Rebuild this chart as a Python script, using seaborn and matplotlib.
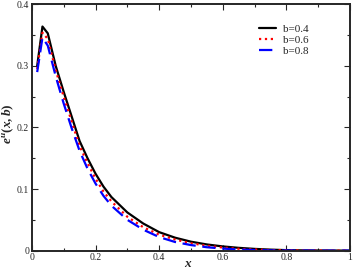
import pandas as pd
import matplotlib
matplotlib.use('Agg')
import matplotlib.pyplot as plt
import seaborn as sns
from matplotlib.ticker import MultipleLocator, FormatStrFormatter

# x grid and curves
x_vals = [0.0167, 0.0333, 0.05, 0.075, 0.1, 0.125, 0.15, 0.175, 0.2, 0.225, 0.25,
          0.3, 0.35, 0.4, 0.45, 0.5, 0.55, 0.6, 0.65, 0.7, 0.75, 0.8, 0.85, 0.9, 0.95, 1.0]
b04 = [0.300, 0.364, 0.353, 0.300, 0.258, 0.218, 0.178, 0.150, 0.125, 0.104, 0.087,
       0.062, 0.044, 0.030, 0.021, 0.0145, 0.010, 0.0068, 0.0045, 0.0028, 0.0016,
       0.0008, 0.0004, 0.0002, 0.0001, 0.0]
b06 = [0.295, 0.354, 0.344, 0.293, 0.250, 0.210, 0.170, 0.142, 0.117, 0.096, 0.080,
       0.055, 0.038, 0.026, 0.018, 0.012, 0.008, 0.005, 0.003, 0.0018, 0.001,
       0.0005, 0.0003, 0.0001, 0.0, 0.0]
b08 = [0.290, 0.346, 0.333, 0.283, 0.239, 0.199, 0.162, 0.133, 0.109, 0.089, 0.073,
       0.050, 0.034, 0.022, 0.014, 0.009, 0.0055, 0.0033, 0.0018, 0.0009, 0.0004,
       0.0002, 0.0001, 0.0, 0.0, 0.0]
labels = ['b=0.4', 'b=0.6', 'b=0.8']

sns.set_style('ticks')
plt.rcParams['font.family'] = ['Liberation Serif', 'DejaVu Serif']
plt.rcParams['mathtext.fontset'] = 'custom'
plt.rcParams['mathtext.it'] = 'Liberation Serif:bold:italic'
plt.rcParams['mathtext.rm'] = 'Liberation Serif:bold'

fig = plt.figure(figsize=(3.54, 2.73), dpi=100)
ax = fig.add_axes([0.090, 0.082, 0.899, 0.902])

styles = [('black', '-', 1.6), ('red', ':', 1.6), ('blue', (0, (6, 3)), 1.6)]
for ys, lab, (c, ls, lw) in zip([b04, b06, b08], labels, styles):
    df = pd.DataFrame({'x': x_vals, 'y': ys})
    sns.lineplot(data=df, x='x', y='y', ax=ax, color=c, linestyle=ls, linewidth=lw, label=lab)

ax.set_xlim(0, 1)
ax.set_ylim(0, 0.4)
ax.xaxis.set_major_locator(MultipleLocator(0.2))
ax.xaxis.set_minor_locator(MultipleLocator(0.1))
ax.yaxis.set_major_locator(MultipleLocator(0.1))
ax.yaxis.set_minor_locator(MultipleLocator(0.05))
ax.xaxis.set_major_formatter(FormatStrFormatter('%g'))
ax.yaxis.set_major_formatter(FormatStrFormatter('%g'))
ax.tick_params(which='both', direction='in', top=True, right=True, labelsize=7, width=0.8, pad=2)
ax.tick_params(which='major', length=4)
ax.tick_params(which='minor', length=2)
for s in ax.spines.values():
    s.set_linewidth(1.4)

ax.set_xlabel(r'$x$', fontsize=9.5)
ax.set_ylabel(r'$e^u(x,b)$', fontsize=9.5)
ax.xaxis.set_label_coords(0.49, -0.03)
ax.yaxis.set_label_coords(-0.05, 0.515)

leg = ax.legend(loc='upper right', bbox_to_anchor=(0.9, 0.96), frameon=False, fontsize=8,
                handlelength=1.5, labelspacing=0.1, handletextpad=0.6)

plt.savefig('out.png', dpi=100)
